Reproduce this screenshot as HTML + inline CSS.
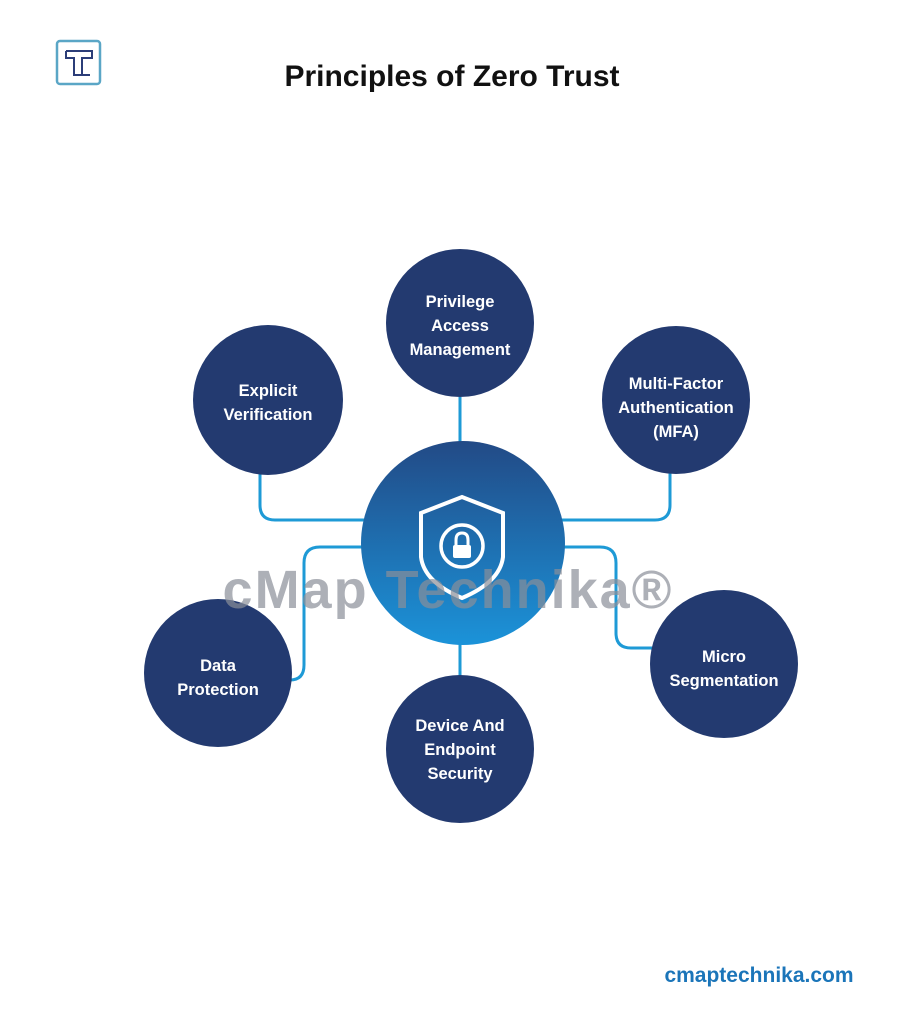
<!DOCTYPE html>
<html><head><meta charset="utf-8"><style>
html,body{margin:0;padding:0;background:#fff;}
svg{display:block;}
text{font-family:"Liberation Sans",sans-serif;font-weight:bold;}
</style></head><body>
<svg width="905" height="1024" viewBox="0 0 905 1024" xmlns="http://www.w3.org/2000/svg">
<defs>
<linearGradient id="g" x1="0" y1="0" x2="0" y2="1">
<stop offset="0" stop-color="#224a86"/><stop offset="1" stop-color="#1b93d9"/>
</linearGradient>
</defs>
<rect width="905" height="1024" fill="#fff"/>
<!-- logo -->
<rect x="57" y="41" width="43" height="43" rx="3" fill="#fff" stroke="#5aa6c6" stroke-width="2.5"/>
<path d="M66 51 H92 V58 H82 V75 H90" fill="none" stroke="#2b3d78" stroke-width="2"/>
<path d="M66 51 V58 H74 V75 H82" fill="none" stroke="#2b3d78" stroke-width="2"/>
<text x="452" y="86" font-size="30" text-anchor="middle" fill="#111">Principles of Zero Trust</text>
<!-- connectors -->
<g fill="none" stroke="#1e9ad6" stroke-width="3">
<path d="M460 397 V445"/>
<path d="M460 640 V678"/>
<path d="M260 472 V505 Q260 520 275 520 H368"/>
<path d="M670 472 V505 Q670 520 655 520 H560"/>
<path d="M366 547 H320 Q304 547 304 563 V665 Q304 680 290 680 H285"/>
<path d="M560 547 H600 Q616 547 616 563 V633 Q616 648 631 648 H655"/>
</g>
<!-- center -->
<circle cx="463" cy="543" r="102" fill="url(#g)"/>
<path d="M462 497 L503 513 V557 Q500 582 462 598 Q424 582 421 557 V513 Z" fill="none" stroke="#fff" stroke-width="4"/>
<circle cx="462" cy="546" r="21" fill="none" stroke="#fff" stroke-width="3.5"/>
<rect x="453" y="545" width="18" height="13" rx="2" fill="#fff"/>
<path d="M456 546 V540 Q456 533 462 533 Q468 533 468 540 V546" fill="none" stroke="#fff" stroke-width="3"/>
<!-- satellites -->
<g fill="#233a70">
<circle cx="460" cy="323" r="74"/>
<circle cx="268" cy="400" r="75"/>
<circle cx="676" cy="400" r="74"/>
<circle cx="218" cy="673" r="74"/>
<circle cx="724" cy="664" r="74"/>
<circle cx="460" cy="749" r="74"/>
</g>
<g fill="#fff" font-size="16.5" text-anchor="middle">
<text x="460" y="307">Privilege</text><text x="460" y="331">Access</text><text x="460" y="355">Management</text>
<text x="268" y="396">Explicit</text><text x="268" y="420">Verification</text>
<text x="676" y="389">Multi-Factor</text><text x="676" y="413">Authentication</text><text x="676" y="437">(MFA)</text>
<text x="218" y="671">Data</text><text x="218" y="695">Protection</text>
<text x="724" y="662">Micro</text><text x="724" y="686">Segmentation</text>
<text x="460" y="731">Device And</text><text x="460" y="755">Endpoint</text><text x="460" y="779">Security</text>
</g>
<text x="448" y="608" font-size="54" letter-spacing="2" text-anchor="middle" fill="#8a8f99" fill-opacity="0.7">cMap Technika®</text>
<text x="759" y="982" font-size="21" text-anchor="middle" fill="#1b75b9">cmaptechnika.com</text>
</svg>
</body></html>
